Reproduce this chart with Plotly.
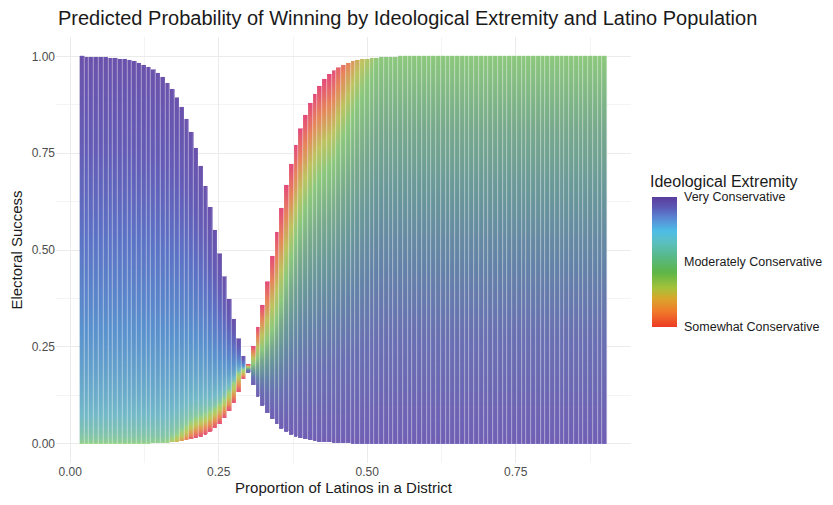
import numpy as np
import plotly.graph_objects as go

# ---------------- data ----------------
# district Latino shares at which predictions were drawn (one stripe each)
latino_start, latino_stop, latino_step = 0.02, 0.90, 0.008
latino_share = np.round(np.arange(latino_start, latino_stop + 1e-9, latino_step), 4)

# all predicted-probability curves meet here
crossing_share = 0.298
crossing_prob = 0.195

# logit slopes of the two outer curves (read from the stripe envelope)
slope_somewhat = 32.0     # Somewhat Conservative (rises with Latino share)
slope_very = -30.0        # Very Conservative (falls with Latino share)

# extremity scale (0 = Somewhat, 1 = Very Conservative)
extremity_ticks = [1.0, 0.5, 0.0]
extremity_labels = ["Very Conservative", "Moderately Conservative", "Somewhat Conservative"]

# extremity (green) that covers the outer "Somewhat" edge where curves saturate
edge_green = 0.45

# vertical resolution of the probability axis
prob_grid = np.round(np.arange(0.0, 1.0 + 1e-9, 0.0025), 4)

# ---------------- colours ----------------
bar_scale = [
    [0.00, "#EE3A24"], [0.12, "#F07A2A"], [0.22, "#D9A62B"], [0.30, "#A5C23A"],
    [0.42, "#5DB547"], [0.55, "#57B98C"], [0.65, "#5BBFC0"], [0.74, "#4DBDE6"],
    [0.84, "#5A86D3"], [0.92, "#5B59B4"], [1.00, "#5B3C9E"],
]
left_cols = [
    (0.00, (228, 80, 118)), (0.15, (232, 140, 85)), (0.30, (190, 200, 90)),
    (0.45, (150, 210, 135)), (0.60, (115, 185, 200)), (0.75, (90, 145, 205)),
    (0.85, (92, 115, 197)), (0.93, (100, 92, 182)), (1.00, (106, 82, 172)),
]
right_cols = [
    (0.00, (228, 75, 122)), (0.15, (230, 135, 90)), (0.30, (190, 195, 95)),
    (0.45, (140, 200, 125)), (0.55, (120, 170, 140)), (0.65, (105, 150, 155)),
    (0.75, (100, 130, 168)), (0.85, (105, 112, 178)), (1.00, (112, 95, 180)),
]


def make_scale(cols, white=0.0):
    out = []
    for v, (r, g, b) in cols:
        r2 = round(r + (255 - r) * white)
        g2 = round(g + (255 - g) * white)
        b2 = round(b + (255 - b) * white)
        out.append([v, f"rgb({r2},{g2},{b2})"])
    return out


def sig(z):
    return 1.0 / (1.0 + np.exp(-z))


def logit(p):
    p = np.clip(p, 1e-12, 1 - 1e-12)
    return np.log(p / (1 - p))


def extremity_colour(s, edge, f, p):
    """s: 0 at the 'Somewhat' edge .. 1 at the 'Very' edge of a stripe."""
    f = f * (1 - edge / edge_green)
    out = np.empty_like(s)
    a = s < f
    if f > 0:
        out[a] = edge + (edge_green - edge) * (s[a] / f)
    b = ~a
    out[b] = edge_green + (1 - edge_green) * ((s[b] - f) / max(1 - f, 1e-9)) ** p
    return out


L0 = logit(crossing_prob)
half = 0.00125
Y = prob_grid

left_x = latino_share[latino_share < crossing_share]
right_x = latino_share[latino_share >= crossing_share]

zL = np.full((len(Y), len(left_x)), np.nan)
for j, x in enumerate(left_x):
    dx = x - crossing_share
    lo = sig(L0 + slope_somewhat * dx)
    hi = sig(L0 + slope_very * dx)
    H = max(hi - lo, 1e-9)
    edge = edge_green * np.clip((-4.3 - logit(lo)) / 1.5, 0, 1)
    m = (Y >= lo - half) & (Y <= hi + half)
    t = np.clip((Y[m] - lo) / H, 0, 1)
    zL[m, j] = extremity_colour(t, edge, min(0.45, 0.05 / H), 0.5)

zR = np.full((len(Y), len(right_x)), np.nan)
for j, x in enumerate(right_x):
    dx = x - crossing_share
    lo = sig(L0 + slope_very * dx)
    hi = sig(L0 + slope_somewhat * dx)
    H = max(hi - lo, 1e-9)
    edge = edge_green * np.clip((logit(hi) - 3.2) / 2.5, 0, 1)
    m = (Y >= lo - half) & (Y <= hi + half)
    u = np.clip((hi - Y[m]) / H, 0, 1)
    zR[m, j] = extremity_colour(u, edge, min(0.45, 0.24 / H), 1.0)

fig = go.Figure()
for xs, zs, cols in ((left_x, zL, left_cols), (right_x, zR, right_cols)):
    # pale underlay shows between the stripes
    fig.add_trace(go.Heatmap(x=xs, y=Y, z=zs, zmin=0, zmax=1,
                             colorscale=make_scale(cols, 0.45),
                             showscale=False, hoverinfo="skip"))
    fig.add_trace(go.Heatmap(x=xs, y=Y, z=zs, zmin=0, zmax=1,
                             colorscale=make_scale(cols, 0.0),
                             showscale=False, xgap=1, hoverinfo="skip"))

# plot area inside the 833x505 figure (page has an 8px body margin)
L, T, W, Hh = 48, 29, 575, 426

# colour bar for the legend
fig.add_trace(go.Scatter(
    x=[None], y=[None], mode="markers", showlegend=False, hoverinfo="skip",
    marker=dict(color=[0.5], cmin=0, cmax=1, colorscale=bar_scale, showscale=True,
                colorbar=dict(
                    tickvals=extremity_ticks, ticktext=extremity_labels,
                    tickfont=dict(size=12.5, color="#1a1a1a"),
                    ticks="outside", ticklen=5, tickcolor="white",
                    thickness=25, thicknessmode="pixels",
                    len=130, lenmode="pixels",
                    x=(644 - L) / W, xanchor="left", xpad=0,
                    y=(T + Hh - 254) / Hh, yanchor="middle", ypad=0,
                    outlinewidth=0,
                ))))

grid_major = "#EBEBEB"
grid_minor = "#F4F4F4"

fig.update_layout(
    width=833, height=505,
    margin=dict(l=L, r=833 - L - W, t=T, b=505 - T - Hh, autoexpand=False),
    plot_bgcolor="white", paper_bgcolor="white",
    font=dict(family="Liberation Sans, Arial, sans-serif", color="#1a1a1a"),
    title=dict(text="Predicted Probability of Winning by Ideological Extremity and Latino Population",
               x=50 / 833, xanchor="left", xref="container",
               y=1 - 10 / 505, yanchor="middle", yref="container",
               font=dict(size=20, color="#1a1a1a")),
    annotations=[dict(text="Ideological Extremity", xref="paper", yref="paper",
                      x=(640 - L) / W, y=(T + Hh - 173) / Hh,
                      xanchor="left", yanchor="middle", showarrow=False,
                      font=dict(size=16, color="#1a1a1a"))],
    xaxis=dict(range=[-0.024, 0.944], tickvals=[0, 0.25, 0.5, 0.75],
               ticktext=["0.00", "0.25", "0.50", "0.75"],
               showgrid=True, gridcolor=grid_major, gridwidth=1,
               minor=dict(tickvals=[0.125, 0.375, 0.625, 0.875], showgrid=True,
                          gridcolor=grid_minor, gridwidth=1),
               zeroline=False, showline=False, ticks="",
               tickfont=dict(size=12, color="#4D4D4D"),
               title=dict(text="Proportion of Latinos in a District",
                          font=dict(size=15, color="#1a1a1a"), standoff=4)),
    yaxis=dict(range=[-0.05, 1.05], tickvals=[0, 0.25, 0.5, 0.75, 1.0],
               ticktext=["0.00", "0.25", "0.50", "0.75", "1.00"],
               showgrid=True, gridcolor=grid_major, gridwidth=1,
               minor=dict(tickvals=[0.125, 0.375, 0.625, 0.875], showgrid=True,
                          gridcolor=grid_minor, gridwidth=1),
               zeroline=False, showline=False, ticks="",
               tickfont=dict(size=12, color="#4D4D4D"),
               title=dict(text="Electoral Success",
                          font=dict(size=15, color="#1a1a1a"), standoff=6)),
)

fig.write_html("out.html")
